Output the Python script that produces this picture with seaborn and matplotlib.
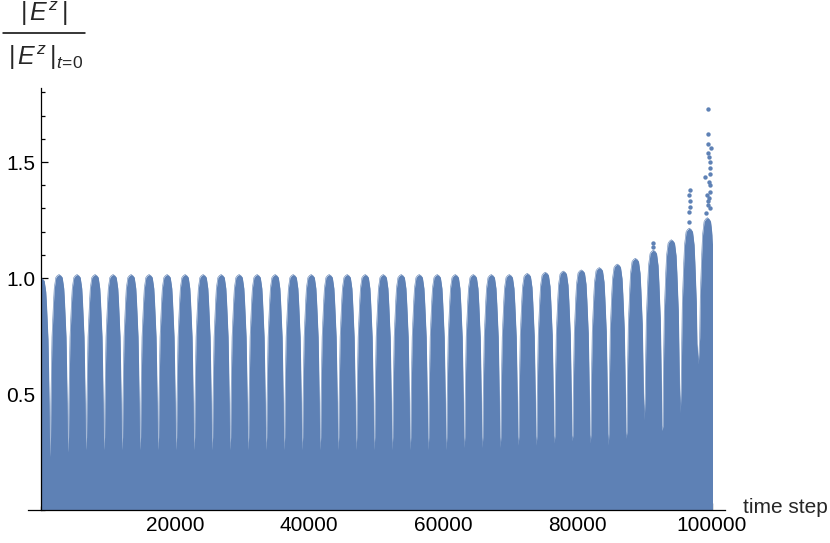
import pandas as pd
import seaborn as sns
import matplotlib.pyplot as plt
from matplotlib.lines import Line2D
from matplotlib.patches import Rectangle
from matplotlib.ticker import MultipleLocator

# time step of each lobe maximum
peak_steps = [0, 2685, 5370, 8055, 10740, 13425, 16110, 18795, 21480, 24165,
              26850, 29535, 32220, 34905, 37590, 40275, 42960, 45645, 48330, 51015,
              53700, 56385, 59070, 61755, 64440, 67125, 69810, 72495, 75180, 77865,
              80550, 83235, 85920, 88605, 91290, 93975, 96660, 99345]
# height of the dense part of each lobe
peak_heights = [1.0, 1.015, 1.015, 1.015, 1.015, 1.015, 1.015, 1.015, 1.015, 1.015,
                1.015, 1.015, 1.015, 1.015, 1.015, 1.015, 1.015, 1.015, 1.015, 1.015,
                1.015, 1.015, 1.015, 1.015, 1.015, 1.015, 1.015, 1.02, 1.025, 1.03,
                1.035, 1.045, 1.06, 1.085, 1.12, 1.165, 1.215, 1.26]
# lowest point of the white gap between lobe k and lobe k+1
gap_floor = [0.23, 0.25, 0.26, 0.26, 0.26, 0.26, 0.26, 0.26, 0.26, 0.26,
             0.26, 0.26, 0.26, 0.26, 0.26, 0.26, 0.26, 0.26, 0.26, 0.26,
             0.26, 0.26, 0.26, 0.27, 0.27, 0.27, 0.28, 0.28, 0.29, 0.30,
             0.29, 0.28, 0.31, 0.39, 0.345, 0.42, 0.63]
# outline of one lobe: level (fraction of the peak) and half width (fraction of the period)
lobe_level = [1.0, 0.995, 0.987, 0.941, 0.877, 0.735, 0.59, 0.452, 0.311]
lobe_halfwidth = [0.0, 0.10, 0.18, 0.265, 0.31, 0.39, 0.425, 0.453, 0.47]
period = 2685
last_step = 100000

# loose points sticking out above the last lobes
spike_steps = [91290, 91300, 96690, 96680, 96700, 96690, 96670, 96640,
               99400, 99400, 99400, 99900, 99500, 99650, 99750, 99750, 99750,
               99000, 99550, 99800, 99750, 99300, 99550, 99400, 99500, 99700, 99200]
spike_values = [1.15, 1.135, 1.379, 1.358, 1.33, 1.307, 1.286, 1.243,
                1.727, 1.622, 1.578, 1.559, 1.538, 1.523, 1.50, 1.475, 1.447,
                1.437, 1.414, 1.40, 1.372, 1.357, 1.345, 1.33, 1.315, 1.30, 1.28]

x_major = [20000, 40000, 60000, 80000, 100000]
x_labels = ['20000', '40000', '60000', '80000', '100000']
y_major = [0.5, 1.0, 1.5]
y_labels = ['0.5', '1.0', '1.5']

blue = '#5E81B5'

# build the upper outline of the point cloud
xs, ys = [], []
for k, (c, h) in enumerate(zip(peak_steps, peak_heights)):
    if k > 0:
        floor = gap_floor[k - 1]
        xs.append((peak_steps[k - 1] + c) / 2)
        ys.append(floor)
        for lev, hw in reversed(list(zip(lobe_level[1:], lobe_halfwidth[1:]))):
            if lev * h > floor:
                xs.append(c - hw * period)
                ys.append(lev * h)
    xs.append(c)
    ys.append(h)
    right_floor = gap_floor[k] if k < len(gap_floor) else 0
    for lev, hw in zip(lobe_level[1:], lobe_halfwidth[1:]):
        if lev * h > right_floor:
            xs.append(c + hw * period)
            ys.append(lev * h)
envelope = pd.DataFrame({'step': xs, 'ratio': ys})
spikes = pd.DataFrame({'step': spike_steps, 'ratio': spike_values})

sns.set_style('ticks')
plt.rcParams['font.family'] = ['Liberation Sans', 'DejaVu Sans']
plt.rcParams['mathtext.fontset'] = 'custom'
plt.rcParams['mathtext.rm'] = 'Liberation Sans'
plt.rcParams['mathtext.it'] = 'Liberation Sans:italic'

fig = plt.figure(figsize=(8.3, 5.43), dpi=100)
ax = fig.add_axes([28 / 830, 33 / 543, 697 / 830, 422 / 543])

clip = Rectangle((0, 0), last_step, 3, transform=ax.transData)
poly = ax.fill_between(envelope['step'], 0, envelope['ratio'], color=blue,
                       linewidth=0)
poly.set_clip_path(clip)
sns.lineplot(data=envelope, x='step', y='ratio', ax=ax, color=blue, lw=0.4,
             sort=False, estimator=None)
ax.lines[-1].set_clip_path(clip)
sns.scatterplot(data=spikes, x='step', y='ratio', ax=ax, color=blue, s=10,
                linewidth=0)

ax.set_xlim(-1938, 101980)
ax.set_ylim(0, 1.819)
ax.set_xlabel('')
ax.set_ylabel('')
ax.spines['top'].set_visible(False)
ax.spines['right'].set_visible(False)
ax.spines['left'].set_position(('data', 0))
for s in ['left', 'bottom']:
    ax.spines[s].set_linewidth(0.9)
    ax.spines[s].set_color('black')

ax.set_xticks(x_major, labels=x_labels)
ax.set_yticks(y_major, labels=y_labels)
ax.xaxis.set_minor_locator(MultipleLocator(5000))
ax.yaxis.set_minor_locator(MultipleLocator(0.1))
ax.tick_params(which='both', direction='in', width=0.9, color='black',
               labelsize=15, labelcolor='black', pad=4)
ax.tick_params(which='major', length=5.2)
ax.tick_params(which='minor', length=3.2)

fig.text(743 / 830, 1 - 513 / 543, 'time step', fontsize=15, va='baseline', ha='left')
fig.text(44 / 830, 1 - 14 / 543, r'$|\,E^{z}\,|$', fontsize=18, ha='center', va='center')
fig.text(46 / 830, 1 - 58 / 543, r'$|\,E^{z}\,|_{t\!=\!0}$', fontsize=18, ha='center', va='center')
fig.add_artist(Line2D([3 / 830, 85 / 830], [1 - 33 / 543, 1 - 33 / 543],
                      transform=fig.transFigure, color='black', lw=1.1))

fig.savefig('out.png', dpi=100)
